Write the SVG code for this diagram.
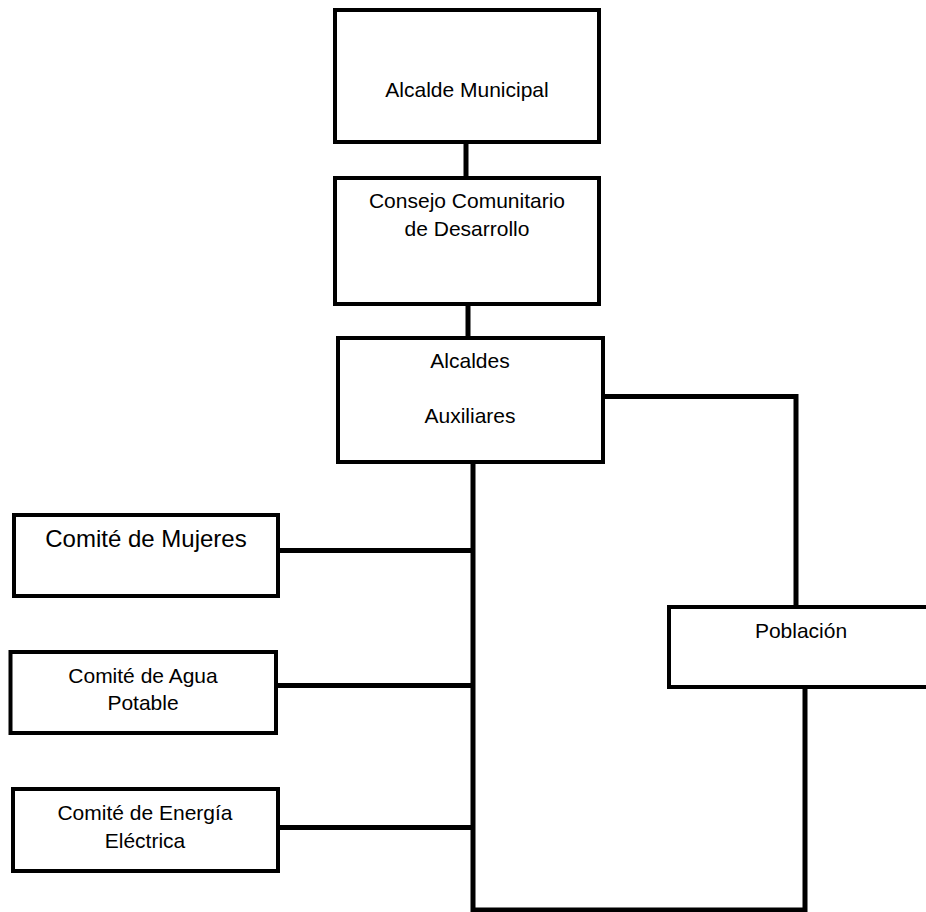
<svg xmlns="http://www.w3.org/2000/svg" width="926" height="912" viewBox="0 0 926 912">
<style>
.box{fill:#fff;stroke:#000;stroke-width:4}
.con{fill:none;stroke:#000;stroke-width:5}
text{font-family:"Liberation Sans",Arial,sans-serif;font-size:21px;fill:#000;text-anchor:middle}
.big{font-size:24px}
</style>
<rect width="926" height="912" fill="#fff"/>
<g id="connectors">
<line class="con" x1="466" y1="142" x2="466" y2="178"/>
<line class="con" x1="468" y1="304" x2="468" y2="338"/>
<polyline class="con" points="603,396.5 796,396.5 796,607"/>
<polyline class="con" points="473,462 473,910 805,910 805,687"/>
<line class="con" x1="278" y1="550.5" x2="473" y2="550.5"/>
<line class="con" x1="276" y1="685.5" x2="473" y2="685.5"/>
<line class="con" x1="278" y1="827.5" x2="473" y2="827.5"/>
</g>
<g id="alcalde-municipal">
<rect class="box" x="335" y="10" width="264" height="132"/>
<text x="467" y="97">Alcalde Municipal</text>
</g>
<g id="consejo">
<rect class="box" x="335" y="178" width="264" height="126"/>
<text x="467" y="208">Consejo Comunitario</text>
<text x="467" y="236">de Desarrollo</text>
</g>
<g id="alcaldes-auxiliares">
<rect class="box" x="338" y="338" width="265" height="124"/>
<text x="470" y="368">Alcaldes</text>
<text x="470" y="423">Auxiliares</text>
</g>
<g id="comite-mujeres">
<rect class="box" x="14" y="515" width="264" height="81"/>
<text class="big" x="146" y="547">Comité de Mujeres</text>
</g>
<g id="comite-agua">
<rect class="box" x="10.5" y="652" width="265.5" height="81"/>
<text x="143" y="683">Comité de Agua</text>
<text x="143" y="710">Potable</text>
</g>
<g id="comite-energia">
<rect class="box" x="13" y="789" width="265" height="82"/>
<text x="145" y="820">Comité de Energía</text>
<text x="145" y="848">Eléctrica</text>
</g>
<g id="poblacion">
<rect class="box" x="669" y="607" width="264" height="80"/>
<text x="801" y="638">Población</text>
</g>
</svg>
